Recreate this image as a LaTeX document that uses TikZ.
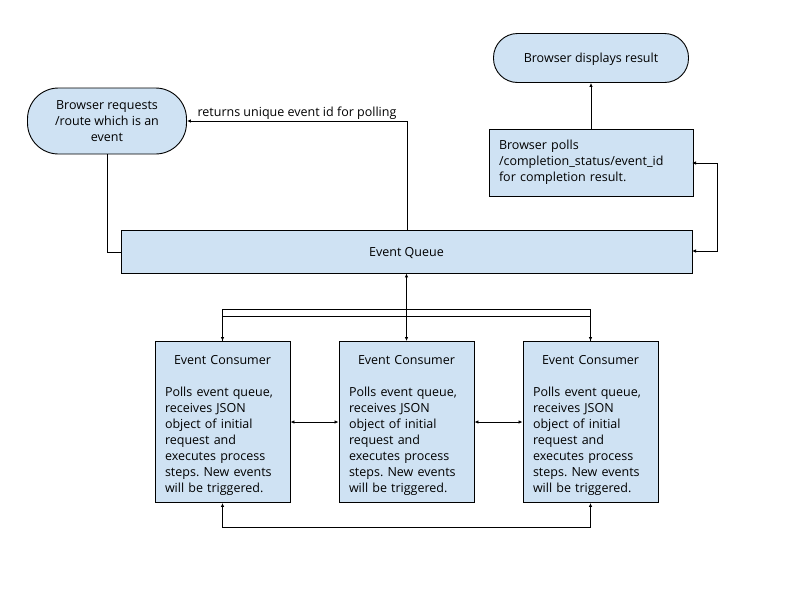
\documentclass[tikz,border=0pt]{standalone}
\usepackage{fontspec}
\setmainfont{Open Sans}
\usetikzlibrary{arrows.meta}
\definecolor{boxblue}{HTML}{CFE2F3}
\frenchspacing
\tikzset{
  every node/.style={font=\fontsize{12.5}{16}\selectfont},
  box/.style={draw=black, fill=boxblue, line width=0.9pt, inner sep=0pt},
  term/.style={box, rounded corners=#1},
  consumer/.style={box, minimum width=135pt, minimum height=161pt},
  ctext/.style={anchor=north, inner sep=0pt, text width=115pt, align=left, yshift=-14pt},
  conn/.style={line width=0.9pt},
  >={Latex[length=4pt,width=3.5pt]}
}
\begin{document}
\begin{tikzpicture}[x=1pt,y=-1pt]
\useasboundingbox (0,0) rectangle (800,600);
% nodes
\node[term=31pt, minimum width=159pt, minimum height=66pt, align=center] (req) at (107,121)
  {Browser requests\\/route which is an\\event};
\node[term=24pt, minimum width=195pt, minimum height=49pt, text height=10pt, text depth=1pt] (disp) at (591,58) {Browser displays result};
\node[box, minimum width=204pt, minimum height=67pt, text width=184pt, inner xsep=10pt, align=left] (poll) at (591,162.5)
  {Browser polls\\/completion\_status/event\_id\\for completion result.};
\node[box, minimum width=571pt, minimum height=43pt, text height=10pt, text depth=1pt] (queue) at (406.5,251.5) {Event Queue};
\newcommand{\consumertext}{\centerline{Event Consumer}\vskip16pt Polls event queue,\\receives JSON\\object of initial\\request and\\executes process\\steps. New events\\will be triggered.}
\node[consumer] (c1) at (222.5,422) {};
\node[consumer] (c2) at (406.5,422) {};
\node[consumer] (c3) at (590.5,422) {};
\node[ctext] (c1x) at (c1.north) {\consumertext};
\node[ctext] (c2x) at (c2.north) {\consumertext};
\node[ctext] (c3x) at (c3.north) {\consumertext};
% helper coordinates
\coordinate (qtop) at (407,230);
\coordinate (ktop) at (407,121);
\coordinate (reqbot) at (107,154);
\coordinate (qleft) at (121,252);
\coordinate (qright) at (692,251);
\coordinate (pright) at (692,163);
% connectors
\draw[conn,->] (qtop) -- (ktop) -- (req.east)
  node[pos=0.5, above=-2pt] (lbl) {returns unique event id for polling};
\draw[conn] (reqbot) -- (107,252) -- (qleft);
\draw[conn,->] (poll.north) -- (disp.south);
\draw[conn,<->] (qright) -- (717,251) -- (717,163) -- (pright);
\draw[conn,<->] (queue.south -| c2.north) -- (c2.north);
\draw[conn,->] (c1.north) -- (222.5,309) -- (590.5,309) -- (c3.north);
\draw[conn,->] (c3.north) -- (590.5,316) -- (222.5,316) -- (c1.north);
\draw[conn,<->] (c1.east) -- (c2.west);
\draw[conn,<->] (c2.east) -- (c3.west);
\draw[conn,<->] (c1.south) -- (222.5,527) -- (590.5,527) -- (c3.south);
\end{tikzpicture}
\end{document}
